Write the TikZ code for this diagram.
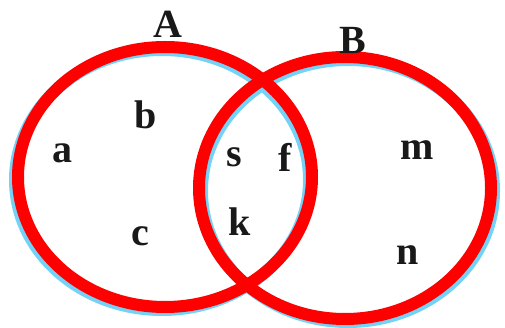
\documentclass[tikz,border=0pt]{standalone}
\usepackage{fontspec}
\setmainfont{Liberation Serif}
\usetikzlibrary{positioning}

\begin{document}
\begin{tikzpicture}[x=1pt, y=-1pt,
    setline/.style={draw=red, line width=12pt},
    setshadow/.style={draw=cyan!55!white, line width=12pt},
    elem/.style={font=\fontsize{40}{40}\selectfont\bfseries, text=black!90, inner sep=0pt},
    ]
    \useasboundingbox (0,0) rectangle (505,328);

    %Shadows
    \draw[setshadow] (162,180) ellipse [x radius=147, y radius=130];
    \draw[setshadow] (348,191) ellipse [x radius=146, y radius=131];

    %Sets
    \draw[setline] (165,177) ellipse [x radius=147, y radius=130];
    \draw[setline] (345,188) ellipse [x radius=146, y radius=131];

    %Nodes
    \node[elem] (labA) at (168,24)  {A};
    \node[elem] (labB) at (353,40)  {B};
    \node[elem] (a)    at (62,153)  {a};
    \node[elem] (b)    at (146,115) {b};
    \node[elem] (c)    at (140,236) {c};
    \node[elem] (s)    at (234,157) {s};
    \node[elem] (f)    at (285,157) {f};
    \node[elem] (k)    at (240,222) {k};
    \node[elem] (m)    at (417,150) {m};
    \node[elem] (n)    at (408,255) {n};

\end{tikzpicture}
\end{document}
